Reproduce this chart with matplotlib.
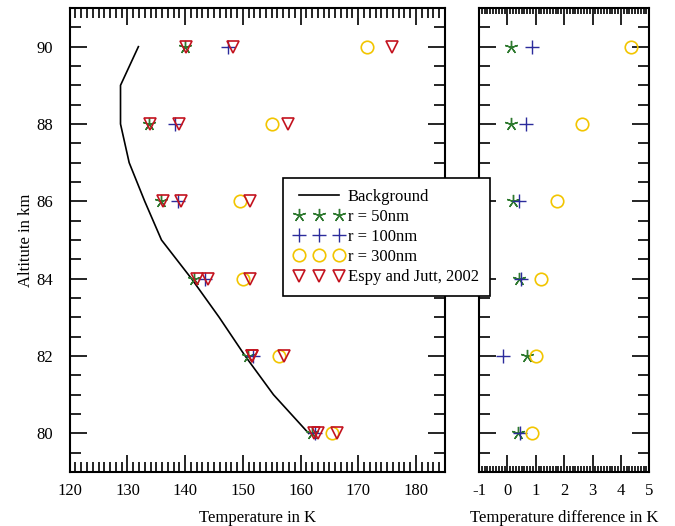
import numpy as np
import matplotlib
matplotlib.use("Agg")
import matplotlib.pyplot as plt
from matplotlib.ticker import MultipleLocator, FormatStrFormatter

plt.rcParams['font.family'] = ['Liberation Serif', 'DejaVu Serif']
plt.rcParams['font.size'] = 12
plt.rcParams['axes.unicode_minus'] = False

# background temperature profile
bg_alt = [80, 81, 82, 83, 84, 85, 86, 87, 88, 89, 90]
bg_temp = [161.4, 155.3, 150.4, 145.9, 141.1, 135.9, 133.0, 130.3, 128.8, 128.8, 131.9]

# model results at each altitude
alt = [80, 82, 84, 86, 88, 90]
t_50 = [161.9, 150.9, 141.6, 135.9, 133.8, 140.0]
t_100 = [162.5, 151.7, 143.4, 138.8, 138.3, 147.4]
t_300 = [165.4, 156.2, 150.0, 149.5, 155.1, 171.5]

# Espy and Jutt minus model
d_50 = [0.38, 0.68, 0.42, 0.19, 0.13, 0.13]
d_100 = [0.45, -0.16, 0.48, 0.41, 0.66, 0.86]
d_300 = [0.87, 1.00, 1.20, 1.74, 2.64, 4.36]

green = '#2f7a30'
blue = '#2b2b9c'
yellow = '#f2c500'
red = '#c3131f'
star = (5, 2, 0)

fig = plt.figure(figsize=(6.75, 5.26), dpi=100)
ax1 = fig.add_axes([0.1033, 0.1027, 0.5557, 0.8821])
ax2 = fig.add_axes([0.7096, 0.1027, 0.2523, 0.8821])

ax1.plot(bg_temp, bg_alt, color='black', lw=1.2, label='Background')
ax1.plot(t_50, alt, ls='none', marker=star, ms=9.5, mec=green, mew=1.0, label='r = 50nm')
ax1.plot(t_100, alt, ls='none', marker='+', ms=10, mec=blue, mew=1.0, label='r = 100nm')
ax1.plot(t_300, alt, ls='none', marker='o', ms=9, mfc='none', mec=yellow, mew=1.2, label='r = 300nm')
espy = [np.array(t_50) + d_50, np.array(t_100) + d_100, np.array(t_300) + d_300]
for i, e in enumerate(espy):
    ax1.plot(e, alt, ls='none', marker='v', ms=8, mfc='none', mec=red, mew=1.2,
             label='Espy and Jutt, 2002' if i == 0 else None)

ax2.plot(d_50, alt, ls='none', marker=star, ms=9.5, mec=green, mew=1.0)
ax2.plot(d_100, alt, ls='none', marker='+', ms=10, mec=blue, mew=1.0)
ax2.plot(d_300, alt, ls='none', marker='o', ms=9, mfc='none', mec=yellow, mew=1.2)

ax1.set_xlim(120, 185)
ax1.set_ylim(79, 91)
ax1.xaxis.set_major_locator(MultipleLocator(10))
ax1.xaxis.set_minor_locator(MultipleLocator(1))
ax2.set_xlim(-1, 5)
ax2.set_ylim(79, 91)
ax2.xaxis.set_major_locator(MultipleLocator(1))
ax2.xaxis.set_minor_locator(MultipleLocator(0.1))
ax2.xaxis.set_major_formatter(FormatStrFormatter('%d'))
for ax in (ax1, ax2):
    ax.yaxis.set_major_locator(MultipleLocator(2))
    ax.yaxis.set_minor_locator(MultipleLocator(0.5))
    ax.tick_params(which='both', direction='in', top=True, right=True, width=1.2, labelsize=12)
    ax.tick_params(which='major', length=12)
    ax.tick_params(axis='x', which='major', pad=8)
    ax.tick_params(axis='y', which='major', pad=12)
    ax.tick_params(axis='y', which='minor', length=8)
    ax.tick_params(axis='x', which='minor', length=7)
    for s in ax.spines.values():
        s.set_linewidth(1.5)
ax2.tick_params(axis='x', which='minor', length=4)
ax2.tick_params(axis='y', labelleft=False)

ax1.set_xlabel('Temperature in K', labelpad=8)
ax1.set_ylabel('Altitute in km', labelpad=2)
ax2.set_xlabel('Temperature difference in K', labelpad=8)

leg = fig.legend(handles=ax1.get_lines()[:5], loc='upper left', bbox_to_anchor=(0.419, 0.6616),
                 borderaxespad=0, numpoints=3, handletextpad=0.25, handlelength=3.0,
                 labelspacing=0.25, fancybox=False, edgecolor='black', framealpha=1,
                 fontsize=12, borderpad=0.65)
leg.get_frame().set_linewidth(1.2)
leg.set_zorder(10)

fig.savefig('out.png', dpi=100)
